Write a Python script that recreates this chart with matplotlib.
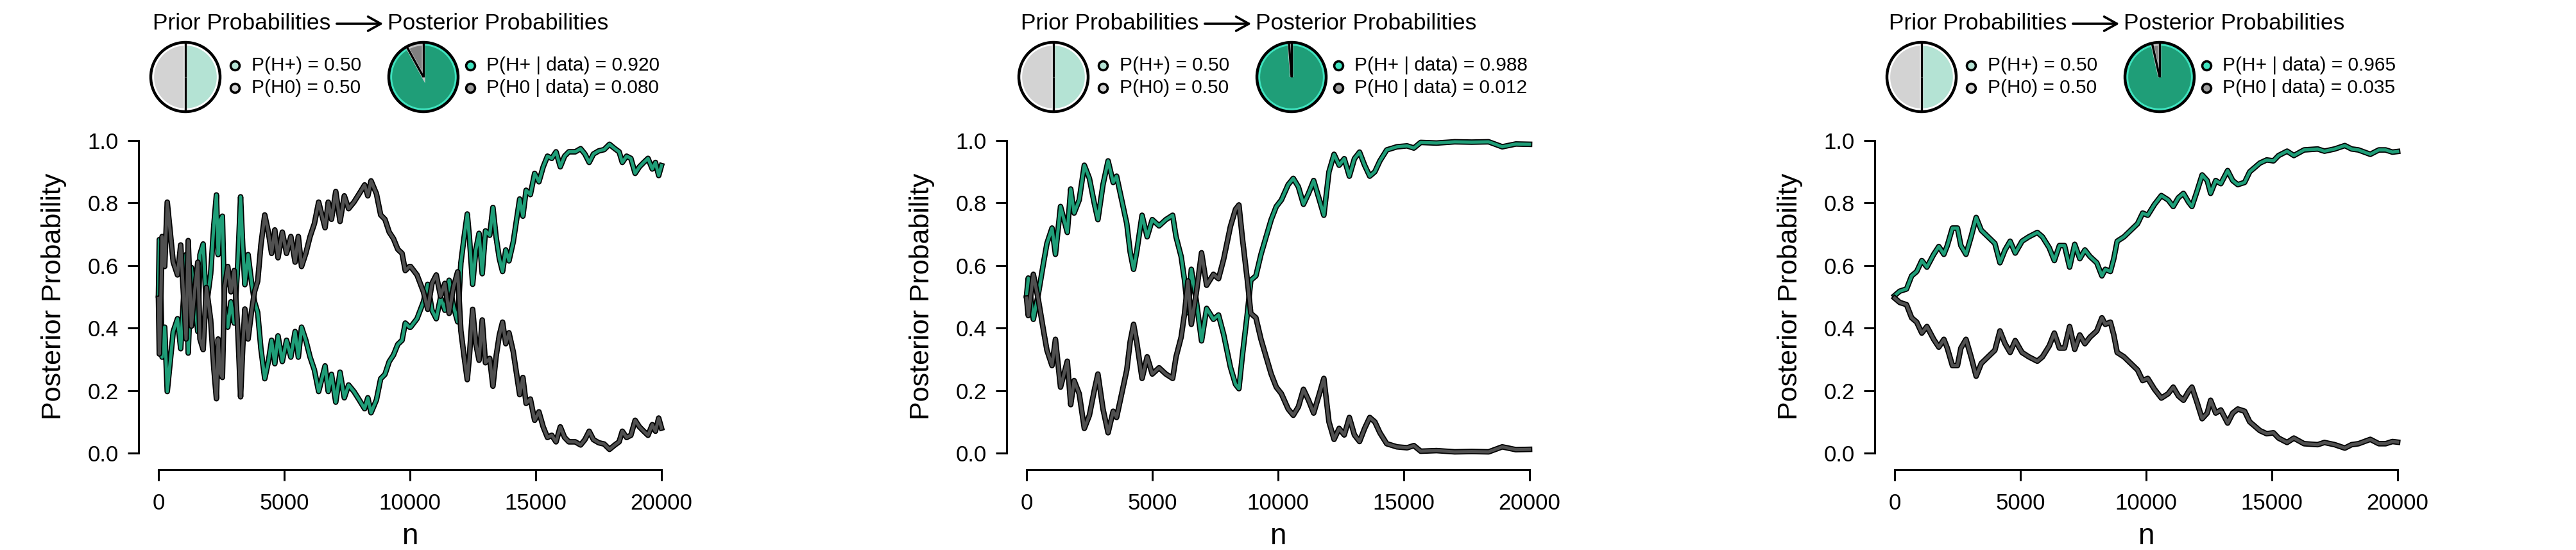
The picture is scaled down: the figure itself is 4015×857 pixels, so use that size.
import matplotlib
matplotlib.use('Agg')
import matplotlib.pyplot as plt
from matplotlib.patches import Circle
from matplotlib.ticker import FormatStrFormatter
import numpy as np

plt.rcParams['font.family'] = ['Liberation Sans', 'DejaVu Sans']

# posterior probability of H+; P(H0 | data) = 1 - that
n1 = [0, 34, 76, 145, 247, 349, 459, 587, 757, 884, 969, 1097, 1182, 1309, 1437,
      1564, 1650, 1777, 1905, 2075, 2202, 2304, 2372, 2457, 2542, 2627, 2755, 2882,
      3010, 3155, 3265, 3350, 3435, 3563, 3690, 3818, 3945, 4073, 4226, 4370, 4498,
      4626, 4753, 4923, 5093, 5263, 5433, 5561, 5688, 5858, 6028, 6199, 6369, 6496,
      6624, 6751, 6879, 7049, 7219, 7389, 7559, 7772, 7984, 8197, 8324, 8452, 8665,
      8835, 9005, 9175, 9345, 9515, 9685, 9813, 9982,
      10025, 10280, 10535, 10705, 10875, 11045, 11216, 11386, 11556, 11726, 11896,
      12023, 12151, 12278, 12363, 12491, 12618, 12746, 12873, 13001, 13171, 13298,
      13426, 13554, 13681, 13809, 13936, 14107, 14234, 14362, 14489, 14617, 14787,
      14957, 15127, 15297, 15467, 15637, 15807, 15977, 16147, 16317, 16572, 16785,
      16955, 17125, 17295, 17508, 17720, 17933, 18145, 18315, 18443, 18613, 18783,
      18953, 19123, 19294, 19464, 19634, 19761, 19889, 20000]
p1 = [0.505, 0.683, 0.574, 0.307, 0.403, 0.197, 0.286, 0.389, 0.430, 0.334, 0.457,
      0.635, 0.320, 0.594, 0.484, 0.389, 0.635, 0.669, 0.470, 0.574, 0.730, 0.826,
      0.635, 0.745, 0.758, 0.470, 0.403, 0.484, 0.416, 0.608, 0.820, 0.663, 0.539,
      0.635, 0.553, 0.484, 0.450, 0.334, 0.238, 0.293, 0.361, 0.286, 0.375, 0.293,
      0.361, 0.307, 0.389, 0.307, 0.403, 0.361, 0.307, 0.266, 0.197, 0.238, 0.279,
      0.197, 0.252, 0.163, 0.259, 0.177, 0.218, 0.197, 0.170, 0.142, 0.177, 0.129,
      0.170, 0.238, 0.252, 0.293, 0.314, 0.348, 0.361, 0.416, 0.403,
      0.403, 0.430, 0.484, 0.540, 0.457, 0.430, 0.498, 0.457, 0.553, 0.470, 0.420,
      0.608, 0.690, 0.765, 0.690, 0.540, 0.650, 0.703, 0.574, 0.711, 0.697, 0.786,
      0.690, 0.622, 0.581, 0.650, 0.615, 0.676, 0.745, 0.813, 0.758, 0.841, 0.827,
      0.895, 0.868, 0.916, 0.950, 0.943, 0.964, 0.916, 0.950, 0.964, 0.964, 0.974,
      0.957, 0.930, 0.957, 0.967, 0.971, 0.988, 0.974, 0.964, 0.930, 0.950, 0.943,
      0.895, 0.916, 0.930, 0.943, 0.909, 0.930, 0.888, 0.920]

n2 = [0, 68, 270, 473, 676, 811, 1013, 1149, 1351, 1621, 1756, 1891, 2094, 2297,
      2499, 2702, 2837, 3040, 3242, 3445, 3580, 3783, 3985, 4121, 4256, 4391, 4593,
      4796, 4999, 5269, 5539, 5809, 5944, 6147, 6282, 6417, 6552, 6755, 6958, 7160,
      7431, 7633, 7836, 8106, 8309, 8444, 8579, 8782, 8917, 9119, 9322, 9525, 9727,
      9930, 10133, 10403, 10605, 10808, 11011, 11213, 11416, 11619, 11821, 12024,
      12227, 12429, 12632, 12835, 13037, 13240, 13442, 13645, 13848, 14050, 14321,
      14726, 15131, 15400, 15672, 16300, 17023, 17700, 18374, 18914, 19454, 20000]
p2 = [0.504, 0.560, 0.428, 0.511, 0.609, 0.671, 0.720, 0.636, 0.789, 0.706, 0.845,
      0.768, 0.810, 0.921, 0.879, 0.796, 0.747, 0.859, 0.935, 0.866, 0.886, 0.810,
      0.734, 0.643, 0.588, 0.650, 0.761, 0.692, 0.747, 0.727, 0.747, 0.761, 0.692,
      0.629, 0.553, 0.449, 0.588, 0.484, 0.359, 0.463, 0.428, 0.442, 0.380, 0.275,
      0.220, 0.206, 0.310, 0.449, 0.553, 0.567, 0.636, 0.692, 0.747, 0.789, 0.810,
      0.859, 0.879, 0.852, 0.796, 0.831, 0.872, 0.817, 0.761, 0.900, 0.956, 0.921,
      0.942, 0.886, 0.942, 0.963, 0.921, 0.886, 0.900, 0.935, 0.970, 0.980, 0.983,
      0.976, 0.994, 0.992, 0.996, 0.995, 0.996, 0.980, 0.989, 0.988]

n3 = [0, 203, 473, 676, 878, 1081, 1284, 1554, 1756, 1959, 2094, 2297, 2499, 2634,
      2837, 3040, 3242, 3445, 3715, 3985, 4188, 4391, 4593, 4796, 5066, 5336, 5674,
      5877, 6147, 6350, 6552, 6755, 6958, 7160, 7363, 7566, 7768, 8038, 8241, 8376,
      8579, 8714, 8849, 9119, 9389, 9660, 9862, 10065, 10335, 10605, 10876, 11078,
      11281, 11484, 11686, 11821, 12024, 12227, 12429, 12564, 12767, 12970, 13240,
      13442, 13645, 13915, 14118, 14321, 14523, 14793, 15064, 15266, 15604, 15874,
      16280, 16820, 17090, 17495, 17900, 18171, 18441, 18914, 19252, 19522, 19792,
      20000]
p3 = [0.504, 0.518, 0.525, 0.567, 0.581, 0.616, 0.595, 0.636, 0.661, 0.636, 0.664,
      0.720, 0.720, 0.664, 0.636, 0.692, 0.754, 0.713, 0.692, 0.671, 0.609, 0.650,
      0.678, 0.640, 0.678, 0.692, 0.706, 0.692, 0.657, 0.616, 0.664, 0.664, 0.595,
      0.668, 0.622, 0.650, 0.629, 0.609, 0.567, 0.588, 0.581, 0.622, 0.678, 0.692,
      0.713, 0.734, 0.768, 0.761, 0.796, 0.824, 0.810, 0.789, 0.817, 0.831, 0.803,
      0.789, 0.838, 0.890, 0.872, 0.831, 0.872, 0.862, 0.904, 0.872, 0.859, 0.866,
      0.900, 0.914, 0.928, 0.938, 0.935, 0.952, 0.966, 0.952, 0.970, 0.973, 0.966,
      0.973, 0.984, 0.973, 0.970, 0.956, 0.970, 0.970, 0.963, 0.965]

prior_plus = [0.50, 0.50, 0.50]
post_plus = [0.920, 0.988, 0.965]

xticks = [0, 5000, 10000, 15000, 20000]
yticks = [0.0, 0.2, 0.4, 0.6, 0.8, 1.0]

W, H = 4016, 857
GREEN = '#1f9e78'
GRAY = '#505050'


def box(x0, y0, x1, y1):
    # pixel box (top-left origin) -> figure fraction rect
    return [x0 / W, 1 - y1 / H, (x1 - x0) / W, (y1 - y0) / H]


def draw_pie(fig, cx, cy, fracs, fills, edges):
    r = 54
    pad = 58
    ax = fig.add_axes(box(cx - pad, cy - pad, cx + pad, cy + pad))
    lim = pad / r
    ax.set_aspect('equal')
    ax.axis('off')
    wedges, _ = ax.pie(fracs, colors=fills, startangle=90, counterclock=False,
                       radius=0.95, wedgeprops=dict(linewidth=3.5))
    for w, e in zip(wedges, edges):
        w.set_edgecolor(e)
    ax.set_xlim(-lim, lim)
    ax.set_ylim(-lim, lim)
    ax.add_patch(Circle((0, 0), 1.0, fill=False, edgecolor='black', linewidth=3.2))
    ang = 90.0
    for f in fracs:
        a = np.deg2rad(ang)
        ax.plot([0, np.cos(a)], [0, np.sin(a)], color='black', lw=2.4,
                solid_capstyle='butt')
        ang -= f * 360


fig = plt.figure(figsize=(W / 100, H / 100), dpi=100)

panels = [(n1, p1), (n2, p2), (n3, p3)]
for i, (nn, pp) in enumerate(panels):
    dx = i * 1353
    ax = fig.add_axes(box(247 + dx, 219, 1031 + dx, 706))
    nn = np.array(nn)
    pp = np.array(pp)
    ax.plot(nn, pp, color='black', lw=6.2, clip_on=False)
    ax.plot(nn, pp, color=GREEN, lw=3.6, clip_on=False)
    ax.plot(nn, 1 - pp, color='black', lw=6.2, clip_on=False)
    ax.plot(nn, 1 - pp, color=GRAY, lw=3.6, clip_on=False)
    ax.set_xlim(0, 20000)
    ax.set_ylim(0, 1)
    for s in ['top', 'right']:
        ax.spines[s].set_visible(False)
    ax.spines['left'].set_position(('outward', 22))
    ax.spines['bottom'].set_position(('outward', 19))
    ax.spines['left'].set_bounds(0, 1)
    ax.spines['bottom'].set_bounds(0, 20000)
    for s in ['left', 'bottom']:
        ax.spines[s].set_linewidth(2.2)
    ax.set_xticks(xticks)
    ax.set_yticks(yticks)
    ax.yaxis.set_major_formatter(FormatStrFormatter('%.1f'))
    ax.tick_params(axis='both', length=12, width=2.2, labelsize=25)
    ax.tick_params(axis='y', pad=11)
    ax.tick_params(axis='x', pad=14)
    fig.text((84 + dx) / W, 1 - 462 / H, 'Posterior Probability', rotation=90,
             ha='center', va='center', fontsize=31)
    fig.text((639 + dx) / W, 1 - 836 / H, 'n', ha='center', va='center', fontsize=33)

    # legend header
    fig.text((238 + dx) / W, 1 - 36 / H, 'Prior Probabilities', ha='left',
             va='center', fontsize=25.5)
    fig.text((604 + dx) / W, 1 - 36 / H, 'Posterior Probabilities', ha='left',
             va='center', fontsize=25.5)
    fig.add_artist(matplotlib.patches.FancyArrowPatch(
        ((522 + dx) / W, 1 - 37 / H), ((600 + dx) / W, 1 - 37 / H),
        transform=fig.transFigure, arrowstyle='->,head_length=9,head_width=5',
        color='black', lw=2.6, mutation_scale=1.6))

    pr = prior_plus[i]
    po = post_plus[i]
    draw_pie(fig, 289 + dx, 120, [pr, 1 - pr], ['#b4e3d4', '#d3d3d3'],
             ['white', 'white'])
    draw_pie(fig, 660 + dx, 120, [po, 1 - po], [GREEN, '#808080'],
             ['#3fe3bf', '#c4c4c4'])

    rows = [(366, 392, 102, '#b4e3d4', 'P(H+) = %.2f' % pr),
            (366, 392, 137, '#d3d3d3', 'P(H0) = %.2f' % (1 - pr)),
            (733, 758, 102, '#3fe3bf', 'P(H+ | data) = %.3f' % po),
            (733, 758, 137, '#a0a0a0', 'P(H0 | data) = %.3f' % (1 - po))]
    for mx, tx, y, c, label in rows:
        fig.add_artist(matplotlib.lines.Line2D([(mx + dx) / W], [1 - y / H],
                                               marker='o', markersize=10,
                                               markerfacecolor=c,
                                               markeredgecolor='black',
                                               markeredgewidth=2.6,
                                               transform=fig.transFigure))
        fig.text((tx + dx) / W, 1 - y / H, label, ha='left', va='center',
                 fontsize=21.5)

fig.savefig('out.png', dpi=100)
